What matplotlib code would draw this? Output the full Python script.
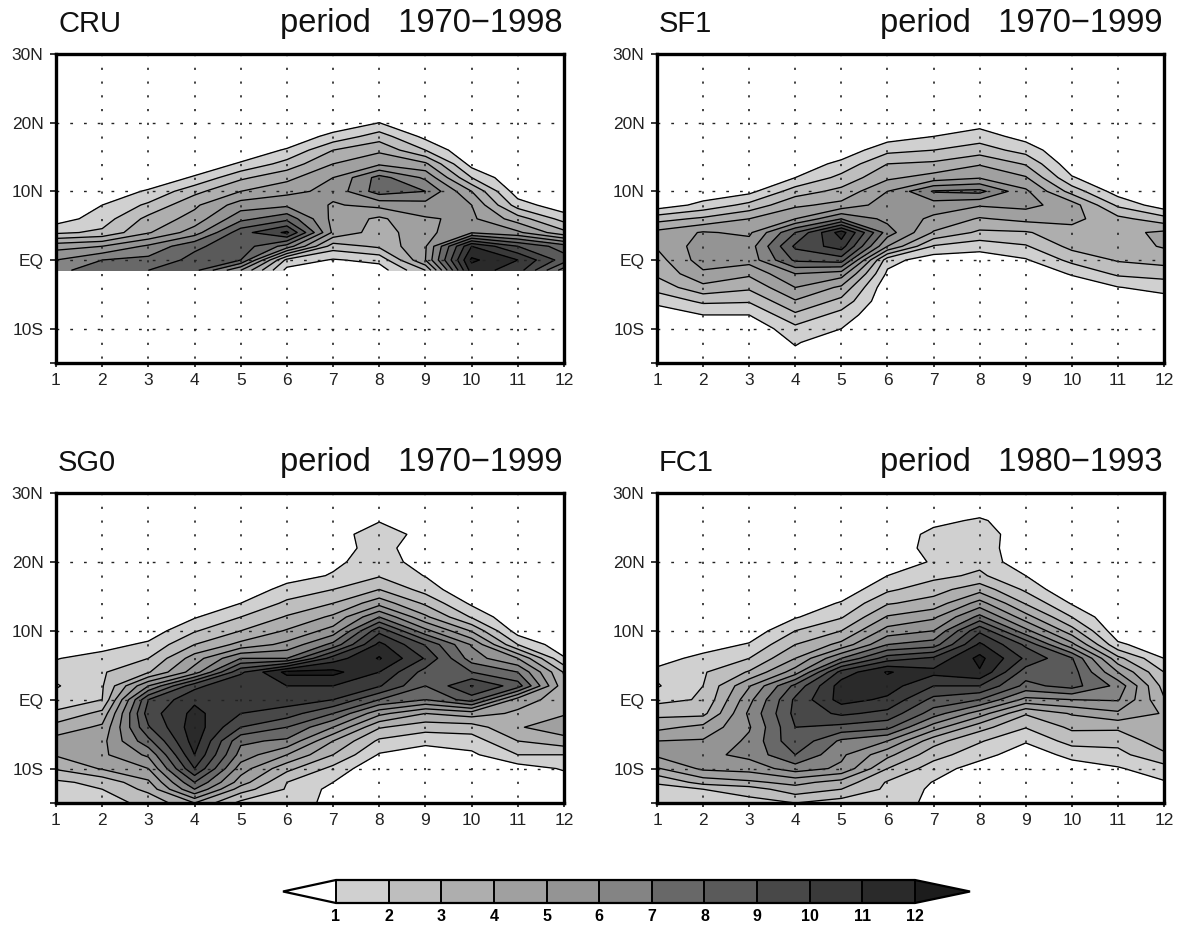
import numpy as np
import matplotlib
matplotlib.use('Agg')
import matplotlib.pyplot as plt

W, H = 1180, 926

lats = [-15,-13,-12,-10,-8,-6,-4,-2,0,2,4,6,8,10,12,14,16,18,20,22,24,26,28,30]
lats_cru = [-1.5,0,2,4,6,8,10,12,14,16,18,20,22]
months = [1,2,3,4,5,6,7,8,9,10,11,12]

# one list per month, south to north, zeros further north are left out
cru = [
    [6.8,6,4.6,1.8,0.5,0.2],
    [7.4,7,5,2.2,1.5,1,0.5],
    [8,7.3,6.2,3.9,3.3,2.2,1.1,0.4],
    [8.3,8.3,7.8,5.5,4.4,3.8,2.7,1.1,0.4],
    [5,8,8.6,8.6,6.7,5.5,4,2.8,1.1,0.4],
    [0.7,1.7,6.6,10.2,7.7,5.8,4.7,3.7,2.4,1.1,0.3],
    [0.2,0.9,2.5,4.8,4.7,4.9,5.3,5,4,3,1.3,0.3],
    [0.5,1.3,3.2,3.5,3.8,5.3,7.5,7.4,4.8,3.8,2.5,1,0.2],
    [3,5,4.9,4.7,4.9,5.6,7,5.8,4.2,2,0.7,0.2],
    [11.5,12.2,11,5.9,5.2,5,4,2,0.6],
    [10.5,11,9,5.2,3.5,1.5,0.4],
    [6.5,8.5,7.5,3.3,1.6,0.3],
]
sf1 = [
    [0,0,0,0.1,0.3,1.3,2.4,3.2,3.6,4.1,4.3,2.6,0.4],
    [0,0,0,0.2,1,2.2,3.7,4.8,5.5,5.5,5.1,3.2,1.3,0.3],
    [0,0,0,0.2,1,2.1,3.2,4.2,5.4,5.5,4.8,4,2.3,0.7,0.2],
    [0.2,0.9,1.1,1.7,2.8,3.9,5,6,8.2,9.2,8,5,3.8,2.5,1,0.3],
    [0,0,0.3,1,1.6,2.7,3.8,5.5,8.5,10.5,11.5,7,4.3,3.3,2.3,1.3,0.3],
    [0,0,0,0,0,0.1,0.2,0.8,1.4,5,6.5,5.7,5.5,5,3.8,3,1.7,0.5],
    [0,0,0,0,0,0,0,0,0.4,1.9,3.9,4.8,5.5,7.1,4.4,3.2,2,1,0.3],
    [0,0,0,0,0,0,0,0,0.4,1.4,2.8,3.9,5.1,7.3,4.9,3.9,2.5,1.5,0.6,0.2],
    [0,0,0,0,0,0,0,0.2,0.9,1.9,2.9,4.3,5.3,5.2,4.1,2.9,1.6,0.6],
    [0,0,0,0,0,0,0.3,1.1,2.3,3.3,3.6,4.3,4.5,2.6,1.1,0.3],
    [0,0,0,0,0,0.2,0.95,2.2,3.1,3.5,3.7,3.3,1.8,0.5],
    [0,0,0,0,0,0.5,1.4,2.4,3.4,4.1,4.2,2.4,0.4],
]
sg0 = [
    [1.5,1.6,1.8,3.1,4.1,4.4,3.4,2.2,1.4,0.9,1.4,0.95,0.3],
    [1.7,2.0,2.3,4.1,4.8,4.7,4.2,3.3,2.0,1.9,1.9,1.4,0.6],
    [2.2,3.3,3.8,5,6.2,7.7,8.9,9.5,9,6,2.9,2,1.2,0.4],
    [4,7,8,10,11,11.5,11.6,11.3,10.8,9.7,5.5,4.5,3,1.9,0.9,0.3],
    [1.7,3.5,4.5,5.5,6.6,7.2,9,10,10.8,11,9.8,7,4.3,3,2,1,0.2],
    [1.9,1.9,2,3.3,5,6.8,8,9.5,10.5,11,12.3,7,5.3,4.1,3.1,2.2,1.4,0.5],
    [0.5,0.7,1,1.7,3,4,6,8,10,11,12.3,10.5,7.3,5.4,4.2,3,2,1.1,0.75,0.46,0.67,0.3],
    [0,0,0,0.1,0.9,1.8,3.1,5.3,8,10.1,11,12.1,11.3,9.7,7,4.6,3,1.9,1.6,1.5,1.4,0.95,0.2],
    [0,0,0,0,0.4,1.3,2.4,4,7,8,8.6,9.9,8.9,6.3,4.2,2.8,1.6,0.95,0.45,0.18,0.73,0.3],
    [0,0,0,0.1,0.8,1.5,2.5,4.5,8.5,10.05,8,6.5,5.9,3.9,1.9,0.8],
    [0,0,0.1,0.5,2,3,3.9,3.8,4.5,8.5,7,5,2,0.5],
    [0,0,0.5,1.1,2,3.6,4.6,3.9,3.5,3.3,2.9,1.1,0.3],
]
fc1 = [
    [1.6,1.7,2.1,3.9,5.2,5,3.7,2.7,1.7,0.9,1.25,0.6,0.2],
    [1.6,2,3.4,5.2,5.7,5.1,4.3,2.7,2.1,2,1.9,1.3,0.5],
    [1.6,2.5,3.8,5.4,6.3,6.2,5.9,6.2,5.7,4.9,3.1,2,1.1,0.3],
    [2,3.6,4.3,6.5,8,8.8,9,9.3,9.2,8.3,5.5,4,3,2,0.9,0.3],
    [1.5,3,3.6,5.8,6.2,6.8,8.7,10.2,11.4,11.5,10.4,7,4.3,3,1.9,1.1,0.3],
    [1.6,1.8,1.9,3,4.3,6,8.3,9.7,10.8,11.5,12.1,9.5,7,5.4,4.1,2.9,1.8,1,0.4,0.1],
    [0.7,0.8,0.95,1.5,2.4,3.4,5.5,7.5,8.7,10,11.3,10.2,7.5,6,4.8,3.4,2.6,1.7,1.1,1.5,1.4,0.6,0.1],
    [0,0,0.1,0.5,1.4,2.1,3.4,5.5,8,10,11.9,12.3,11.2,9.8,7.3,5.4,3.6,2.2,1.7,1.6,1.5,1.2,0.2],
    [0,0,0,0,0.4,1.1,2.05,3.1,5.7,7.7,8.5,9.8,8.8,6.3,4.4,2.9,1.8,1,0.3,0.2,0.4,0.1],
    [0,0,0,0.5,1.3,2.4,3.2,4.1,6,8.4,8.5,8.1,5.3,3.4,2,0.9],
    [0,0,0.3,0.9,1.7,2.3,3.2,4.8,6.1,6.7,5,3.3,1.2,0.3],
    [0,0,0.9,1.6,2.8,3.6,4,3.9,3.1,2.6,2,1,0.3],
]

levels = [1,2,3,4,5,6,7,8,9,10,11,12]
grays = ['#ffffff','#d0d0d0','#bebebe','#aeaeae','#a0a0a0','#949494','#848484',
         '#686868','#5a5a5a','#484848','#3a3a3a','#2a2a2a','#1c1c1c']
names = ['CRU','SF1','SG0','FC1']
periods = ['period   1970\u22121998','period   1970\u22121999','period   1970\u22121999','period   1980\u22121993']
boxes = [(56,54,564,363),(657,54,1164,363),(56,493,564,803),(657,493,1164,803)]

lat_ticks = [-15,-10,0,10,20,30]
lat_labels = ['','10S','EQ','10N','20N','30N']

plt.rcParams['font.family'] = ['Liberation Sans','DejaVu Sans']
fig = plt.figure(figsize=(W/100,H/100),dpi=100)

def grid_of(rows,n):
    z = np.zeros((n,12))
    for i,r in enumerate(rows):
        z[:len(r),i] = r
    return z

datasets = [(lats_cru,cru),(lats,sf1),(lats,sg0),(lats,fc1)]
for k in range(4):
    x0,y0,x1,y1 = boxes[k]
    ax = fig.add_axes([x0/W,1-y1/H,(x1-x0)/W,(y1-y0)/H])
    la,rows = datasets[k]
    z = grid_of(rows,len(la))
    cf = ax.contourf(months,la,z,levels=levels,colors=grays,extend='both')
    ax.contour(months,la,z,levels=levels,colors='black',linewidths=0.95)
    ax.set_xlim(1,12)
    ax.set_ylim(-15,30)
    ax.set_xticks(months)
    ax.set_yticks(lat_ticks)
    ax.set_yticklabels(lat_labels)
    ax.tick_params(axis='y',length=4.5,width=1.1,labelsize=12.5,pad=4.5,labelcolor='#222222')
    ax.tick_params(axis='x',length=3,width=1.1,labelsize=12.5,pad=4,labelcolor='#222222')
    for v in months[1:-1]:
        ax.plot([v,v],[30,-15],color='#222222',lw=1.2,dashes=(1.3,6.95))
    for v in [-10,0,10,20]:
        ax.plot([1,12],[v,v],color='#222222',lw=1.0,dashes=(2,7.9))
    for s in ax.spines.values():
        s.set_linewidth(2.4)
    fig.text((x0+2)/W,1-(y0-22)/H,names[k],fontsize=21,va='baseline',ha='left',color='#111111')
    fig.text((x1-2)/W,1-(y0-22)/H,periods[k],fontsize=23.5,va='baseline',ha='right',color='#111111')

# colourbar with both arrows
cax = fig.add_axes([283/W,1-903/H,(970-283)/W,23/H])
cb = fig.colorbar(cf,cax=cax,orientation='horizontal',extend='both',
                  extendfrac=(53/579,55/579),drawedges=True,ticks=levels)
cb.ax.tick_params(length=0,labelsize=11.5,pad=4)
for t in cb.ax.get_xticklabels():
    t.set_fontweight('bold')
cb.outline.set_linewidth(1.6)
cb.dividers.set_linewidth(1.4)

fig.savefig('out.png',dpi=100)
